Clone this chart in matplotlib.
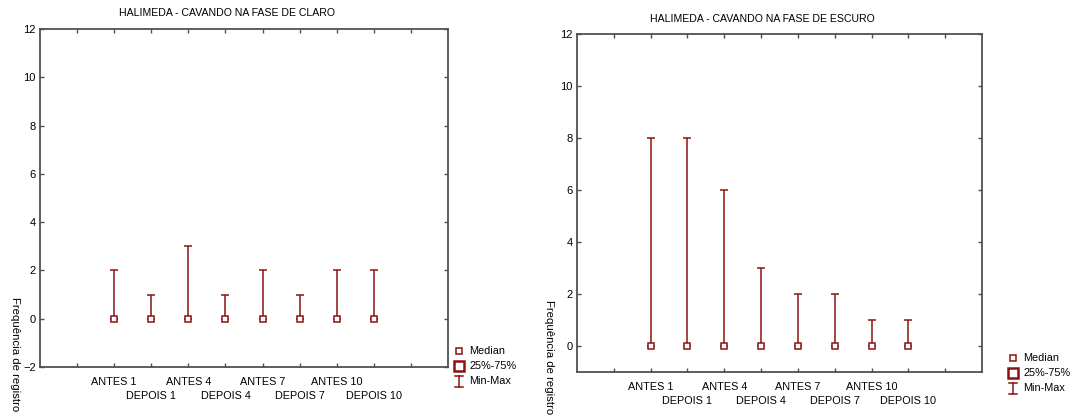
import matplotlib
matplotlib.use("Agg")
import matplotlib.pyplot as plt
from matplotlib.lines import Line2D
import numpy as np

plt.rcParams['font.family'] = ['Liberation Sans', 'DejaVu Sans']

# dados
categorias = ["ANTES 1", "DEPOIS 1", "ANTES 4", "DEPOIS 4",
              "ANTES 7", "DEPOIS 7", "ANTES 10", "DEPOIS 10"]

claro_mediana = [0, 0, 0, 0, 0, 0, 0, 0]
claro_min = [0, 0, 0, 0, 0, 0, 0, 0]
claro_max = [2, 1, 3, 1, 2, 1, 2, 2]

escuro_mediana = [0, 0, 0, 0, 0, 0, 0, 0]
escuro_min = [0, 0, 0, 0, 0, 0, 0, 0]
escuro_max = [8, 8, 6, 3, 2, 2, 1, 1]

RED = "#8c1212"
GRAY = "#505050"

W, H = 1073, 418
fig = plt.figure(figsize=(W / 100, H / 100), dpi=100)


def painel(rect, mediana, vmin, vmax, ylim):
    ax = fig.add_axes(rect)
    x = np.arange(2, 2 + len(categorias))
    med = np.array(mediana)
    lo = med - np.array(vmin)
    hi = np.array(vmax) - med
    ax.errorbar(x, med, yerr=[lo, hi], fmt='none', ecolor=RED,
                elinewidth=1.1, capsize=2.8, capthick=1.1, zorder=2)
    ax.plot(x, med, 's', ms=4.6, mfc='white', mec=RED, mew=1.1, zorder=3)
    ax.set_xlim(0, 11)
    ax.set_ylim(*ylim)
    ax.set_yticks(range(0 if ylim[0] > -2 else -2, 13, 2))
    # ANTES na primeira linha, DEPOIS na segunda
    ax.set_xticks([1] + list(x[0::2]) + [10])
    ax.set_xticklabels([""] + categorias[0::2] + [""])
    ax.set_xticks(x[1::2], minor=True)
    ax.set_xticklabels(categorias[1::2], minor=True)
    for w in ('major', 'minor'):
        ax.tick_params(which=w, direction='in', length=3, width=1, color=GRAY,
                       labelsize=7.8, top=True, right=True)
    ax.tick_params(axis='x', which='major', pad=7.5)
    ax.tick_params(axis='x', which='minor', pad=17)
    ax.tick_params(axis='y', pad=3, labelsize=8)
    for s in ax.spines.values():
        s.set_color(GRAY)
        s.set_linewidth(1.3)
    return ax


painel([40 / W, 1 - 367 / H, 408 / W, 338 / H],
       claro_mediana, claro_min, claro_max, (-2, 12))
painel([577 / W, 1 - 372 / H, 405 / W, 338 / H],
       escuro_mediana, escuro_min, escuro_max, (-1, 12))

fig.text(227 / W, 1 - 13 / H, "HALIMEDA - CAVANDO NA FASE DE CLARO",
         ha='center', va='center', fontsize=7.6)
fig.text(762 / W, 1 - 19 / H, "HALIMEDA - CAVANDO NA FASE DE ESCURO",
         ha='center', va='center', fontsize=7.6)

fig.text(15 / W, 1 - 297 / H, "Frequência de registro", rotation=270,
         ha='center', va='top', fontsize=8.2)
fig.text(549 / W, 1 - 300 / H, "Frequência de registro", rotation=270,
         ha='center', va='top', fontsize=8.2)


def legenda(x, y):
    # x, y em pixels (topo da legenda)
    fx = lambda v: v / W
    fy = lambda v: 1 - v / H
    fig.add_artist(Line2D([fx(x)], [fy(y)], marker='s', ms=4.6, mfc='white',
                          mec=RED, mew=1.1, transform=fig.transFigure))
    fig.text(fx(x + 10), fy(y), "Median", va='center', fontsize=7.8)
    fig.add_artist(Line2D([fx(x)], [fy(y + 15)], marker='s', ms=7, mfc='white',
                          mec=RED, mew=1.8, transform=fig.transFigure))
    fig.text(fx(x + 10), fy(y + 15), "25%-75%", va='center', fontsize=7.8)
    fig.add_artist(Line2D([fx(x), fx(x)], [fy(y + 25), fy(y + 36)], color=RED,
                          lw=1.1, transform=fig.transFigure))
    for yy in (y + 25, y + 36):
        fig.add_artist(Line2D([fx(x - 4), fx(x + 4)], [fy(yy), fy(yy)],
                              color=RED, lw=1.1, transform=fig.transFigure))
    fig.text(fx(x + 10), fy(y + 30), "Min-Max", va='center', fontsize=7.8)


legenda(459, 351)
legenda(1013, 358)

fig.savefig("out.png", dpi=100)
